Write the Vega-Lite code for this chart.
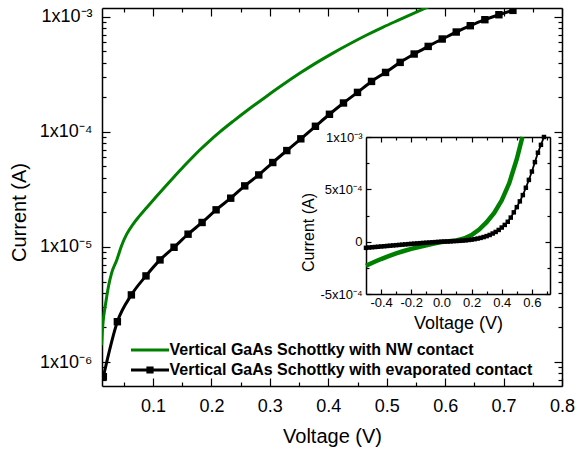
{
  "$schema": "https://vega.github.io/schema/vega-lite/v6.json",
  "width": 460,
  "height": 378,
  "autosize": {"type": "none"},
  "padding": {"left": 102, "top": 8, "right": 16, "bottom": 65},
  "background": "white",
  "config": {
    "view": {"stroke": null},
    "font": "Liberation Sans",
    "axis": {
      "grid": false,
      "domainColor": "black",
      "domainWidth": 1.5,
      "tickColor": "black",
      "tickWidth": 1.2,
      "labelFont": "Liberation Sans",
      "titleFont": "Liberation Sans",
      "labelColor": "black",
      "titleColor": "black",
      "titleFontWeight": "normal",
      "labelFlush": false,
      "labelOverlap": false,
      "labelLimit": 300
    }
  },
  "datasets": {
    "main": [
      {"series": "Vertical GaAs Schottky with NW contact", "V": 0.012, "I": 1.4e-6},
      {"series": "Vertical GaAs Schottky with NW contact", "V": 0.0135, "I": 1.9e-6},
      {"series": "Vertical GaAs Schottky with NW contact", "V": 0.015, "I": 2.35e-6},
      {"series": "Vertical GaAs Schottky with NW contact", "V": 0.0175, "I": 2.9e-6},
      {"series": "Vertical GaAs Schottky with NW contact", "V": 0.02, "I": 3.5e-6},
      {"series": "Vertical GaAs Schottky with NW contact", "V": 0.024, "I": 4.6e-6},
      {"series": "Vertical GaAs Schottky with NW contact", "V": 0.029, "I": 5.9e-6},
      {"series": "Vertical GaAs Schottky with NW contact", "V": 0.038, "I": 7.7e-6},
      {"series": "Vertical GaAs Schottky with NW contact", "V": 0.046, "I": 1.02e-5},
      {"series": "Vertical GaAs Schottky with NW contact", "V": 0.055, "I": 1.29e-5},
      {"series": "Vertical GaAs Schottky with NW contact", "V": 0.066, "I": 1.58e-5},
      {"series": "Vertical GaAs Schottky with NW contact", "V": 0.077, "I": 1.86e-5},
      {"series": "Vertical GaAs Schottky with NW contact", "V": 0.089, "I": 2.19e-5},
      {"series": "Vertical GaAs Schottky with NW contact", "V": 0.105, "I": 2.71e-5},
      {"series": "Vertical GaAs Schottky with NW contact", "V": 0.123, "I": 3.43e-5},
      {"series": "Vertical GaAs Schottky with NW contact", "V": 0.137, "I": 4.11e-5},
      {"series": "Vertical GaAs Schottky with NW contact", "V": 0.152, "I": 4.97e-5},
      {"series": "Vertical GaAs Schottky with NW contact", "V": 0.166, "I": 5.89e-5},
      {"series": "Vertical GaAs Schottky with NW contact", "V": 0.18, "I": 6.95e-5},
      {"series": "Vertical GaAs Schottky with NW contact", "V": 0.197, "I": 8.36e-5},
      {"series": "Vertical GaAs Schottky with NW contact", "V": 0.214, "I": 9.93e-5},
      {"series": "Vertical GaAs Schottky with NW contact", "V": 0.237, "I": 1.233e-4},
      {"series": "Vertical GaAs Schottky with NW contact", "V": 0.265, "I": 1.585e-4},
      {"series": "Vertical GaAs Schottky with NW contact", "V": 0.294, "I": 2.03e-4},
      {"series": "Vertical GaAs Schottky with NW contact", "V": 0.322, "I": 2.56e-4},
      {"series": "Vertical GaAs Schottky with NW contact", "V": 0.351, "I": 3.22e-4},
      {"series": "Vertical GaAs Schottky with NW contact", "V": 0.38, "I": 3.99e-4},
      {"series": "Vertical GaAs Schottky with NW contact", "V": 0.408, "I": 4.83e-4},
      {"series": "Vertical GaAs Schottky with NW contact", "V": 0.437, "I": 5.82e-4},
      {"series": "Vertical GaAs Schottky with NW contact", "V": 0.465, "I": 6.9e-4},
      {"series": "Vertical GaAs Schottky with NW contact", "V": 0.494, "I": 8.13e-4},
      {"series": "Vertical GaAs Schottky with NW contact", "V": 0.522, "I": 9.42e-4},
      {"series": "Vertical GaAs Schottky with NW contact", "V": 0.565, "I": 1.18e-3},
      {"series": "Vertical GaAs Schottky with NW contact", "V": 0.6, "I": 1.41e-3},
      {"series": "Vertical GaAs Schottky with evaporated contact", "V": 0.015, "I": 7.45e-7},
      {"series": "Vertical GaAs Schottky with evaporated contact", "V": 0.039, "I": 2.24e-6},
      {"series": "Vertical GaAs Schottky with evaporated contact", "V": 0.063, "I": 3.83e-6},
      {"series": "Vertical GaAs Schottky with evaporated contact", "V": 0.088, "I": 5.6e-6},
      {"series": "Vertical GaAs Schottky with evaporated contact", "V": 0.112, "I": 7.71e-6},
      {"series": "Vertical GaAs Schottky with evaporated contact", "V": 0.136, "I": 9.93e-6},
      {"series": "Vertical GaAs Schottky with evaporated contact", "V": 0.16, "I": 1.29e-5},
      {"series": "Vertical GaAs Schottky with evaporated contact", "V": 0.184, "I": 1.63e-5},
      {"series": "Vertical GaAs Schottky with evaporated contact", "V": 0.208, "I": 2.1e-5},
      {"series": "Vertical GaAs Schottky with evaporated contact", "V": 0.233, "I": 2.65e-5},
      {"series": "Vertical GaAs Schottky with evaporated contact", "V": 0.257, "I": 3.39e-5},
      {"series": "Vertical GaAs Schottky with evaporated contact", "V": 0.281, "I": 4.22e-5},
      {"series": "Vertical GaAs Schottky with evaporated contact", "V": 0.305, "I": 5.41e-5},
      {"series": "Vertical GaAs Schottky with evaporated contact", "V": 0.329, "I": 6.87e-5},
      {"series": "Vertical GaAs Schottky with evaporated contact", "V": 0.353, "I": 8.69e-5},
      {"series": "Vertical GaAs Schottky with evaporated contact", "V": 0.378, "I": 1.117e-4},
      {"series": "Vertical GaAs Schottky with evaporated contact", "V": 0.402, "I": 1.42e-4},
      {"series": "Vertical GaAs Schottky with evaporated contact", "V": 0.426, "I": 1.78e-4},
      {"series": "Vertical GaAs Schottky with evaporated contact", "V": 0.45, "I": 2.2e-4},
      {"series": "Vertical GaAs Schottky with evaporated contact", "V": 0.474, "I": 2.74e-4},
      {"series": "Vertical GaAs Schottky with evaporated contact", "V": 0.498, "I": 3.28e-4},
      {"series": "Vertical GaAs Schottky with evaporated contact", "V": 0.523, "I": 4.01e-4},
      {"series": "Vertical GaAs Schottky with evaporated contact", "V": 0.547, "I": 4.74e-4},
      {"series": "Vertical GaAs Schottky with evaporated contact", "V": 0.571, "I": 5.52e-4},
      {"series": "Vertical GaAs Schottky with evaporated contact", "V": 0.595, "I": 6.4e-4},
      {"series": "Vertical GaAs Schottky with evaporated contact", "V": 0.619, "I": 7.36e-4},
      {"series": "Vertical GaAs Schottky with evaporated contact", "V": 0.643, "I": 8.35e-4},
      {"series": "Vertical GaAs Schottky with evaporated contact", "V": 0.668, "I": 9.42e-4},
      {"series": "Vertical GaAs Schottky with evaporated contact", "V": 0.692, "I": 1.04e-3},
      {"series": "Vertical GaAs Schottky with evaporated contact", "V": 0.716, "I": 1.135e-3}
    ],
    "inset": [
      {"series": "NW", "V": -0.5, "I": -2.3e-4},
      {"series": "NW", "V": -0.45, "I": -1.97e-4},
      {"series": "NW", "V": -0.4, "I": -1.66e-4},
      {"series": "NW", "V": -0.35, "I": -1.38e-4},
      {"series": "NW", "V": -0.3, "I": -1.12e-4},
      {"series": "NW", "V": -0.25, "I": -8.9e-5},
      {"series": "NW", "V": -0.2, "I": -6.9e-5},
      {"series": "NW", "V": -0.15, "I": -5.1e-5},
      {"series": "NW", "V": -0.1, "I": -3.5e-5},
      {"series": "NW", "V": -0.05, "I": -1.8e-5},
      {"series": "NW", "V": 0.0, "I": -3e-6},
      {"series": "NW", "V": 0.05, "I": 3e-6},
      {"series": "NW", "V": 0.1, "I": 1.2e-5},
      {"series": "NW", "V": 0.15, "I": 3.0e-5},
      {"series": "NW", "V": 0.2, "I": 6.3e-5},
      {"series": "NW", "V": 0.25, "I": 1.15e-4},
      {"series": "NW", "V": 0.3, "I": 1.86e-4},
      {"series": "NW", "V": 0.35, "I": 2.75e-4},
      {"series": "NW", "V": 0.4, "I": 3.95e-4},
      {"series": "NW", "V": 0.45, "I": 5.6e-4},
      {"series": "NW", "V": 0.5, "I": 7.9e-4},
      {"series": "NW", "V": 0.537, "I": 1.0e-3},
      {"series": "evap", "V": -0.5, "I": -5.9e-5},
      {"series": "evap", "V": -0.48, "I": -5.6e-5},
      {"series": "evap", "V": -0.46, "I": -5.35e-5},
      {"series": "evap", "V": -0.44, "I": -5.1e-5},
      {"series": "evap", "V": -0.42, "I": -4.85e-5},
      {"series": "evap", "V": -0.4, "I": -4.6e-5},
      {"series": "evap", "V": -0.38, "I": -4.35e-5},
      {"series": "evap", "V": -0.36, "I": -4.1e-5},
      {"series": "evap", "V": -0.34, "I": -3.85e-5},
      {"series": "evap", "V": -0.32, "I": -3.6e-5},
      {"series": "evap", "V": -0.3, "I": -3.35e-5},
      {"series": "evap", "V": -0.28, "I": -3.1e-5},
      {"series": "evap", "V": -0.26, "I": -2.85e-5},
      {"series": "evap", "V": -0.24, "I": -2.6e-5},
      {"series": "evap", "V": -0.22, "I": -2.35e-5},
      {"series": "evap", "V": -0.2, "I": -2.1e-5},
      {"series": "evap", "V": -0.18, "I": -1.88e-5},
      {"series": "evap", "V": -0.16, "I": -1.65e-5},
      {"series": "evap", "V": -0.14, "I": -1.42e-5},
      {"series": "evap", "V": -0.12, "I": -1.2e-5},
      {"series": "evap", "V": -0.1, "I": -1.0e-5},
      {"series": "evap", "V": -0.08, "I": -8e-6},
      {"series": "evap", "V": -0.06, "I": -6e-6},
      {"series": "evap", "V": -0.04, "I": -4e-6},
      {"series": "evap", "V": -0.02, "I": -2e-6},
      {"series": "evap", "V": 0.0, "I": 0},
      {"series": "evap", "V": 0.02, "I": 1e-6},
      {"series": "evap", "V": 0.04, "I": 2e-6},
      {"series": "evap", "V": 0.06, "I": 3.5e-6},
      {"series": "evap", "V": 0.08, "I": 5e-6},
      {"series": "evap", "V": 0.1, "I": 6.5e-6},
      {"series": "evap", "V": 0.12, "I": 8e-6},
      {"series": "evap", "V": 0.14, "I": 1.0e-5},
      {"series": "evap", "V": 0.16, "I": 1.25e-5},
      {"series": "evap", "V": 0.18, "I": 1.6e-5},
      {"series": "evap", "V": 0.2, "I": 1.95e-5},
      {"series": "evap", "V": 0.22, "I": 2.4e-5},
      {"series": "evap", "V": 0.24, "I": 2.95e-5},
      {"series": "evap", "V": 0.26, "I": 3.6e-5},
      {"series": "evap", "V": 0.28, "I": 4.4e-5},
      {"series": "evap", "V": 0.3, "I": 5.3e-5},
      {"series": "evap", "V": 0.32, "I": 6.4e-5},
      {"series": "evap", "V": 0.34, "I": 7.8e-5},
      {"series": "evap", "V": 0.36, "I": 9.3e-5},
      {"series": "evap", "V": 0.38, "I": 1.12e-4},
      {"series": "evap", "V": 0.4, "I": 1.35e-4},
      {"series": "evap", "V": 0.42, "I": 1.6e-4},
      {"series": "evap", "V": 0.44, "I": 1.9e-4},
      {"series": "evap", "V": 0.46, "I": 2.3e-4},
      {"series": "evap", "V": 0.48, "I": 2.8e-4},
      {"series": "evap", "V": 0.5, "I": 3.3e-4},
      {"series": "evap", "V": 0.52, "I": 3.85e-4},
      {"series": "evap", "V": 0.54, "I": 4.45e-4},
      {"series": "evap", "V": 0.56, "I": 5.15e-4},
      {"series": "evap", "V": 0.58, "I": 5.9e-4},
      {"series": "evap", "V": 0.6, "I": 6.7e-4},
      {"series": "evap", "V": 0.62, "I": 7.6e-4},
      {"series": "evap", "V": 0.64, "I": 8.5e-4},
      {"series": "evap", "V": 0.66, "I": 9.25e-4},
      {"series": "evap", "V": 0.68, "I": 1.0e-3}
    ]
  },
  "layer": [
    {
      "layer": [
        {
          "data": {"name": "main"},
          "mark": {"type": "line", "strokeWidth": 3, "clip": true, "interpolate": "monotone"},
          "encoding": {
            "x": {
              "field": "V", "type": "quantitative",
              "scale": {"domain": [0.0127, 0.8], "nice": false, "zero": false},
              "axis": {
                "orient": "bottom",
                "values": [0.05, 0.1, 0.15, 0.2, 0.25, 0.3, 0.35, 0.4, 0.45, 0.5, 0.55, 0.6, 0.65, 0.7, 0.75, 0.8],
                "labelExpr": "abs(datum.value*10-round(datum.value*10)) < 0.001 ? format(datum.value, '.1f') : ''",
                "tickSize": {"condition": {"test": "abs(datum.value*10-round(datum.value*10)) < 0.001", "value": -8}, "value": -4},
                "labelFontSize": 18,
                "labelBaseline": "middle",
                "labelPadding": 28,
                "title": "Voltage (V)",
                "titleFontSize": 20,
                "titleY": 50,
                "titleBaseline": "middle"
              }
            },
            "y": {
              "field": "I", "type": "quantitative",
              "scale": {"type": "log", "domain": [6.19e-7, 1.19e-3], "nice": false},
              "axis": {
                "orient": "left",
                "values": [7e-7, 8e-7, 9e-7, 1e-6, 2e-6, 3e-6, 4e-6, 5e-6, 6e-6, 7e-6, 8e-6, 9e-6, 1e-5, 2e-5, 3e-5, 4e-5, 5e-5, 6e-5, 7e-5, 8e-5, 9e-5, 1e-4, 2e-4, 3e-4, 4e-4, 5e-4, 6e-4, 7e-4, 8e-4, 9e-4, 1e-3],
                "labelExpr": "abs(log(datum.value)/LN10 - round(log(datum.value)/LN10)) < 0.001 ? ('1x10' + (round(log(datum.value)/LN10) == -3 ? '⁻³' : round(log(datum.value)/LN10) == -4 ? '⁻⁴' : round(log(datum.value)/LN10) == -5 ? '⁻⁵' : '⁻⁶')) : ''",
                "tickSize": {"condition": {"test": "abs(log(datum.value)/LN10 - round(log(datum.value)/LN10)) < 0.001", "value": -8}, "value": -4},
                "labelFontSize": 18,
                "labelBaseline": "middle",
                "labelPadding": 18,
                "title": "Current (A)",
                "titleFontSize": 20,
                "titleX": -83,
                "titleY": 204,
                "titleBaseline": "middle"
              }
            },
            "color": {
              "field": "series", "type": "nominal",
              "scale": {"domain": ["Vertical GaAs Schottky with NW contact", "Vertical GaAs Schottky with evaporated contact"], "range": ["#008000", "#000000"]},
              "legend": {
                "orient": "none",
                "legendX": 40,
                "legendY": 334,
                "title": null,
                "direction": "vertical",
                "padding": 0,
                "labelFont": "Liberation Sans",
                "labelFontSize": 16,
                "labelFontWeight": "bold",
                "labelColor": "black",
                "labelLimit": 600,
                "symbolSize": 64,
                "symbolStrokeWidth": 0,
                "labelOffset": 11.5,
                "rowPadding": 4,
                "encode": {
                  "symbols": {
                    "update": {
                      "shape": {"signal": "datum.value === 'Vertical GaAs Schottky with NW contact' ? 'M-4.75,-0.375L4.75,-0.375L4.75,0.375L-4.75,0.375Z' : 'M-4.75,-0.375L4.75,-0.375L4.75,0.375L-4.75,0.375Z M-0.9,-0.9L0.9,-0.9L0.9,0.9L-0.9,0.9Z'"},
                      "fill": {"signal": "datum.value === 'Vertical GaAs Schottky with NW contact' ? '#008000' : '#000000'"},
                      "fillOpacity": {"value": 1},
                      "strokeWidth": {"value": 0}
                    }
                  }
                }
              }
            }
          }
        },
        {
          "data": {"name": "main"},
          "transform": [{"filter": "indexof(datum.series, 'evaporated') >= 0"}],
          "mark": {"type": "point", "shape": "square", "filled": true, "size": 55, "color": "black", "opacity": 1, "clip": true},
          "encoding": {
            "x": {
              "field": "V", "type": "quantitative",
              "scale": {"domain": [0.0127, 0.8], "nice": false, "zero": false},
              "axis": {
                "orient": "top",
                "values": [0.05, 0.1, 0.15, 0.2, 0.25, 0.3, 0.35, 0.4, 0.45, 0.5, 0.55, 0.6, 0.65, 0.7, 0.75, 0.8],
                "labels": false,
                "title": null,
                "tickSize": {"condition": {"test": "abs(datum.value*10-round(datum.value*10)) < 0.001", "value": -8}, "value": -4}
              }
            },
            "y": {
              "field": "I", "type": "quantitative",
              "scale": {"type": "log", "domain": [6.19e-7, 1.19e-3], "nice": false},
              "axis": {
                "orient": "right",
                "values": [7e-7, 8e-7, 9e-7, 1e-6, 2e-6, 3e-6, 4e-6, 5e-6, 6e-6, 7e-6, 8e-6, 9e-6, 1e-5, 2e-5, 3e-5, 4e-5, 5e-5, 6e-5, 7e-5, 8e-5, 9e-5, 1e-4, 2e-4, 3e-4, 4e-4, 5e-4, 6e-4, 7e-4, 8e-4, 9e-4, 1e-3],
                "labels": false,
                "title": null,
                "tickSize": {"condition": {"test": "abs(log(datum.value)/LN10 - round(log(datum.value)/LN10)) < 0.001", "value": -8}, "value": -4}
              }
            }
          }
        }
      ],
      "resolve": {"axis": {"x": "independent", "y": "independent"}}
    },
    {
      "layer": [
        {
          "data": {"name": "inset"},
          "mark": {"type": "line", "clip": false},
          "encoding": {
            "x": {
              "field": "V", "type": "quantitative",
              "scale": {"domain": [-0.5, 0.72], "range": [264, 448], "nice": false, "zero": false},
              "axis": {
                "orient": "bottom",
                "offset": -92,
                "values": [-0.4, -0.3, -0.2, -0.1, 0, 0.1, 0.2, 0.3, 0.4, 0.5, 0.6, 0.7],
                "labelExpr": "abs(datum.value*5-round(datum.value*5)) < 0.001 ? (datum.value < -0.001 ? '-' + format(-datum.value, '.1f') : format(abs(datum.value), '.1f')) : ''",
                "tickSize": {"condition": {"test": "abs(datum.value*5-round(datum.value*5)) < 0.001", "value": -5}, "value": -3},
                "labelFontSize": 13,
                "labelBaseline": "middle",
                "labelPadding": 13,
                "title": "Voltage (V)",
                "titleFontSize": 18,
                "titleY": 29,
                "titleBaseline": "middle"
              }
            },
            "y": {
              "field": "I", "type": "quantitative",
              "scale": {"domain": [-5e-4, 1e-3], "range": [286, 129], "nice": false, "zero": false},
              "axis": {
                "orient": "left",
                "offset": -264,
                "values": [-5e-4, -2.5e-4, 0, 2.5e-4, 5e-4, 7.5e-4, 1e-3],
                "labelExpr": "datum.value == 0.001 ? '1x10⁻³' : datum.value == 0.0005 ? '5x10⁻⁴' : datum.value == 0 ? '0' : datum.value == -0.0005 ? '-5x10⁻⁴' : ''",
                "tickSize": {"condition": {"test": "abs(datum.value*2000-round(datum.value*2000)) < 0.001", "value": -5}, "value": -3},
                "labelFontSize": 13,
                "labelBaseline": "middle",
                "labelPadding": 9,
                "title": "Current (A)",
                "titleFontSize": 16,
                "titleX": -58,
                "titleY": 224,
                "titleBaseline": "middle"
              }
            },
            "color": {
              "field": "series", "type": "nominal",
              "scale": {"domain": ["NW", "evap"], "range": ["#008000", "#000000"]},
              "legend": null
            },
            "strokeWidth": {
              "field": "series", "type": "nominal",
              "scale": {"domain": ["NW", "evap"], "range": [4.5, 1.8]},
              "legend": null
            }
          }
        },
        {
          "data": {"name": "inset"},
          "transform": [{"filter": "datum.series === 'evap'"}],
          "mark": {"type": "point", "shape": "square", "filled": true, "size": 20, "color": "black", "opacity": 1},
          "encoding": {
            "x": {
              "field": "V", "type": "quantitative",
              "scale": {"domain": [-0.5, 0.72], "range": [264, 448], "nice": false, "zero": false},
              "axis": {
                "orient": "top",
                "offset": -129,
                "values": [-0.4, -0.3, -0.2, -0.1, 0, 0.1, 0.2, 0.3, 0.4, 0.5, 0.6, 0.7],
                "labels": false,
                "title": null,
                "tickSize": {"condition": {"test": "abs(datum.value*5-round(datum.value*5)) < 0.001", "value": -5}, "value": -3}
              }
            },
            "y": {
              "field": "I", "type": "quantitative",
              "scale": {"domain": [-5e-4, 1e-3], "range": [286, 129], "nice": false, "zero": false},
              "axis": {
                "orient": "right",
                "offset": -12,
                "values": [-5e-4, -2.5e-4, 0, 2.5e-4, 5e-4, 7.5e-4, 1e-3],
                "labels": false,
                "title": null,
                "tickSize": {"condition": {"test": "abs(datum.value*2000-round(datum.value*2000)) < 0.001", "value": -5}, "value": -3}
              }
            }
          }
        }
      ],
      "resolve": {"axis": {"x": "independent", "y": "independent"}}
    }
  ],
  "resolve": {
    "scale": {"x": "independent", "y": "independent", "color": "independent", "strokeWidth": "independent"},
    "axis": {"x": "independent", "y": "independent"}
  }
}
